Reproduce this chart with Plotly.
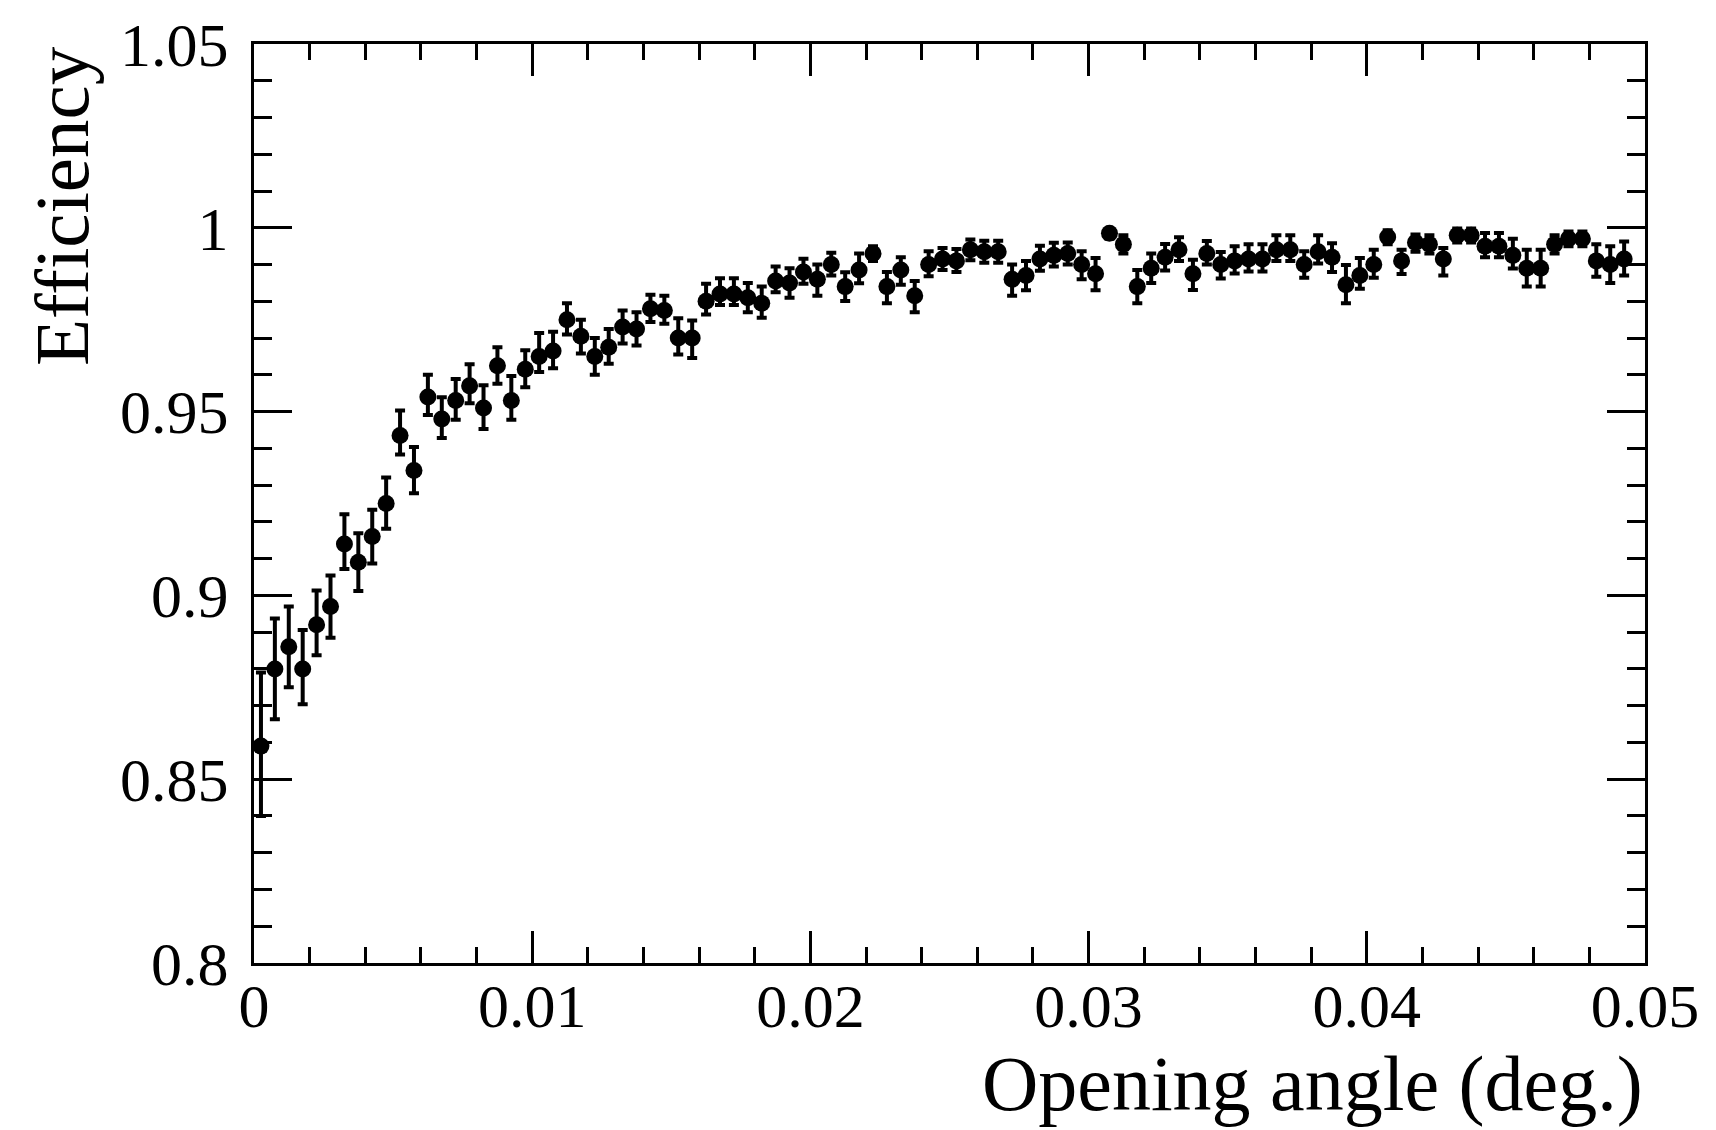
import plotly.graph_objects as go

bin_width = 0.0005
n_bins = 99
angle = [bin_width * (i + 0.5) for i in range(n_bins)]

efficiency = [
    0.859, 0.880, 0.886, 0.880, 0.892, 0.897, 0.914, 0.909, 0.916, 0.925,
    0.9435, 0.934, 0.954, 0.948, 0.953, 0.957, 0.951, 0.9625, 0.953, 0.9615,
    0.965, 0.9665, 0.975, 0.9705, 0.965, 0.9675, 0.973, 0.9725, 0.978, 0.9775,
    0.970, 0.970, 0.980, 0.982, 0.982, 0.981, 0.9795, 0.9855, 0.985, 0.988,
    0.986, 0.990, 0.984, 0.9885, 0.993, 0.984, 0.9885, 0.9815, 0.990, 0.9915,
    0.991, 0.994, 0.9935, 0.9935, 0.986, 0.987, 0.9915, 0.9925, 0.993, 0.990,
    0.9875, 0.9985, 0.9955, 0.984, 0.989, 0.992, 0.994, 0.9875, 0.993, 0.990,
    0.991, 0.9915, 0.9915, 0.994, 0.994, 0.990, 0.9935, 0.992, 0.9845, 0.987,
    0.990, 0.9975, 0.991, 0.996, 0.9955, 0.9915, 0.998, 0.998, 0.995, 0.995,
    0.9925, 0.989, 0.989, 0.9955, 0.997, 0.997, 0.991, 0.990, 0.9915,
]

err_up = [
    0.020, 0.0137, 0.011, 0.0106, 0.0093, 0.0084, 0.0081, 0.0079, 0.0073, 0.0071,
    0.0068, 0.0064, 0.0060, 0.0059, 0.0059, 0.0059, 0.0062, 0.0050, 0.0067, 0.0052,
    0.0064, 0.0052, 0.0045, 0.0045, 0.0050, 0.0050, 0.0045, 0.0045, 0.0038, 0.0040,
    0.0054, 0.0048, 0.0048, 0.0043, 0.0043, 0.0040, 0.0045, 0.0040, 0.0040, 0.0036,
    0.0040, 0.0032, 0.0039, 0.0045, 0.0020, 0.0040, 0.0035, 0.0040, 0.0036, 0.0030,
    0.0032, 0.0028, 0.0030, 0.0030, 0.0040, 0.0040, 0.0036, 0.0034, 0.0030, 0.0036,
    0.0043, 0.0012, 0.0025, 0.0045, 0.0040, 0.0036, 0.0034, 0.0038, 0.0034, 0.0034,
    0.0040, 0.0040, 0.0040, 0.0040, 0.0040, 0.0036, 0.0045, 0.0038, 0.0054, 0.0048,
    0.0040, 0.0018, 0.0030, 0.0022, 0.0025, 0.0030, 0.0018, 0.0018, 0.0036, 0.0036,
    0.0045, 0.0050, 0.0050, 0.0025, 0.0020, 0.0020, 0.0045, 0.0050, 0.0048,
]

err_down = [
    0.019, 0.0137, 0.011, 0.0096, 0.0083, 0.0085, 0.0068, 0.0078, 0.0073, 0.0069,
    0.0052, 0.0062, 0.0049, 0.0052, 0.0052, 0.0047, 0.0057, 0.0049, 0.0052, 0.0049,
    0.0042, 0.0047, 0.0040, 0.0047, 0.0050, 0.0045, 0.0045, 0.0045, 0.0036, 0.0036,
    0.0045, 0.0054, 0.0036, 0.0030, 0.0030, 0.0040, 0.0040, 0.0030, 0.0040, 0.0032,
    0.0045, 0.0030, 0.0039, 0.0036, 0.0020, 0.0045, 0.0040, 0.0045, 0.0032, 0.0030,
    0.0030, 0.0028, 0.0030, 0.0030, 0.0045, 0.0040, 0.0032, 0.0030, 0.0030, 0.0040,
    0.0045, 0.0015, 0.0025, 0.0045, 0.0040, 0.0036, 0.0030, 0.0044, 0.0030, 0.0038,
    0.0034, 0.0034, 0.0034, 0.0030, 0.0030, 0.0036, 0.0032, 0.0040, 0.0050, 0.0036,
    0.0036, 0.0020, 0.0036, 0.0025, 0.0025, 0.0045, 0.0020, 0.0020, 0.0030, 0.0030,
    0.0036, 0.0050, 0.0050, 0.0025, 0.0020, 0.0020, 0.0043, 0.0050, 0.0045,
]

x_tickvals = [0, 0.01, 0.02, 0.03, 0.04, 0.05]
x_ticktext = ["0", "0.01", "0.02", "0.03", "0.04", "0.05"]
y_tickvals = [0.8, 0.85, 0.9, 0.95, 1.0, 1.05]
y_ticktext = ["0.8", "0.85", "0.9", "0.95", "1", "1.05"]

x_title = "Opening angle (deg.)"
y_title = "Efficiency"

FONT = "Liberation Serif, Times New Roman, serif"

fig = go.Figure()
fig.add_trace(go.Scatter(
    x=angle, y=efficiency, mode="markers",
    marker=dict(color="black", size=17, symbol="circle"),
    error_y=dict(type="data", symmetric=False, array=err_up, arrayminus=err_down,
                 color="black", thickness=4, width=5),
    showlegend=False,
))

fig.update_layout(
    width=1716, height=1130,
    margin=dict(l=254, r=71, t=44, b=167),
    paper_bgcolor="white", plot_bgcolor="white",
    font=dict(family=FONT, color="black", size=62),
)

fig.update_xaxes(
    range=[0, 0.05], showgrid=False, zeroline=False,
    showline=True, linecolor="black", linewidth=3, mirror="ticks",
    ticks="inside", ticklen=32, tickwidth=3, tickcolor="black",
    tickvals=x_tickvals, ticktext=x_ticktext,
    tickfont=dict(family=FONT, size=62, color="black"),
    minor=dict(ticks="inside", ticklen=16, tickwidth=3, tickcolor="black", dtick=0.002, tick0=0, showgrid=False),
    ticklabelstandoff=-13,
)
fig.update_yaxes(
    range=[0.8, 1.05], showgrid=False, zeroline=False,
    showline=True, linecolor="black", linewidth=3, mirror="ticks",
    ticks="inside", ticklen=38, tickwidth=3, tickcolor="black",
    tickvals=y_tickvals, ticktext=y_ticktext,
    tickfont=dict(family=FONT, size=62, color="black"),
    minor=dict(ticks="inside", ticklen=18, tickwidth=3, tickcolor="black", dtick=0.01, tick0=0.8, showgrid=False),
    ticklabelstandoff=10,
)

fig.add_annotation(
    text=x_title, xref="paper", yref="paper", x=1.0, y=-0.131,
    xanchor="right", yanchor="middle", showarrow=False,
    font=dict(family=FONT, size=78, color="black"),
)
fig.add_annotation(
    text=y_title, xref="paper", yref="paper", x=-0.138, y=1.0,
    xanchor="center", yanchor="top", textangle=-90, showarrow=False,
    font=dict(family=FONT, size=77, color="black"),
)

fig.write_html("out.html")
